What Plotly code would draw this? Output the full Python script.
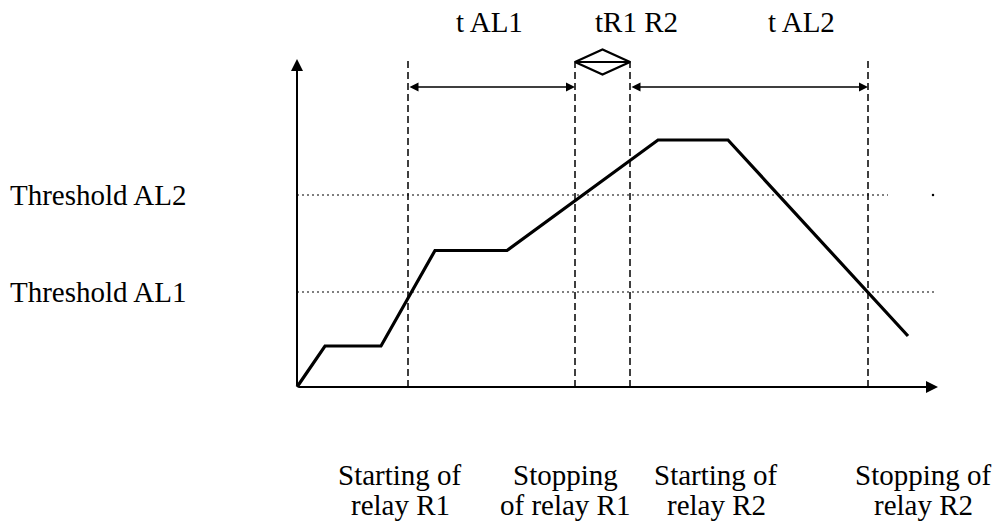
import plotly.graph_objects as go

# Signal curve (time, level)
curve_t = [0, 2.8, 8.4, 13.8, 21.0, 36.1, 43.1, 61.1]
curve_v = [0, 4.1, 4.1, 13.65, 13.65, 24.7, 24.7, 5.1]

# Thresholds
threshold_names = ["Threshold AL2", "Threshold AL1"]
threshold_levels = [19.2, 9.5]
threshold_ends = [59.1, 63.8]

# Relay event times
event_times = [11.1, 27.8, 33.3, 57.1]
event_line1 = ["Starting of", "Stopping", "Starting of", "Stopping of"]
event_line2 = ["relay R1", "of relay R1", "relay R2", "relay R2"]
event_label_x = [10.3, 26.8, 41.9, 62.6]

# Interval labels
interval_names = ["t AL1", "tR1 R2", "t AL2"]
interval_label_x = [19.2, 33.9, 50.4]

axis_top = 32.8
axis_right = 64.1
arrow_level = 30.0
diamond_mid = 32.5
diamond_half = 1.25

FONT = "Liberation Serif, Times New Roman, serif"
FS = 29

fig = go.Figure()

# threshold dotted lines
for lvl, end in zip(threshold_levels, threshold_ends):
    fig.add_trace(go.Scatter(x=[0, end], y=[lvl, lvl], mode="lines",
                             line=dict(color="black", width=1.2, dash="2px,3px"),
                             hoverinfo="skip", showlegend=False))
# small stray dot on AL2
fig.add_trace(go.Scatter(x=[63.6], y=[threshold_levels[0]], mode="markers",
                         marker=dict(color="black", size=2.5), hoverinfo="skip", showlegend=False))

# vertical dashed lines
for t in event_times:
    fig.add_trace(go.Scatter(x=[t, t], y=[0, axis_top], mode="lines",
                             line=dict(color="black", width=1.5, dash="7px,4px"),
                             hoverinfo="skip", showlegend=False))

# curve
fig.add_trace(go.Scatter(x=curve_t, y=curve_v, mode="lines",
                         line=dict(color="black", width=3.2),
                         hoverinfo="skip", showlegend=False))

# diamond between R1 stop and R2 start
dl, dr = event_times[1], event_times[2]
dm = (dl + dr) / 2
fig.add_trace(go.Scatter(x=[dl, dm, dr, dm, dl, dr],
                         y=[diamond_mid, diamond_mid + diamond_half, diamond_mid,
                            diamond_mid - diamond_half, diamond_mid, diamond_mid],
                         mode="lines", line=dict(color="black", width=2.2),
                         hoverinfo="skip", showlegend=False))

anns = []
# axes arrows
anns.append(dict(x=0, y=axis_top, ax=0, ay=0, xref="x", yref="y", axref="x", ayref="y",
                 text="", showarrow=True, arrowhead=2, arrowsize=1.2, arrowwidth=2, arrowcolor="black"))
anns.append(dict(x=axis_right, y=0, ax=0, ay=0, xref="x", yref="y", axref="x", ayref="y",
                 text="", showarrow=True, arrowhead=2, arrowsize=1.2, arrowwidth=2, arrowcolor="black"))
# interval arrows
for a, b in [(event_times[0], event_times[1]), (event_times[2], event_times[3])]:
    anns.append(dict(x=b, y=arrow_level, ax=a, ay=arrow_level, xref="x", yref="y", axref="x", ayref="y",
                     text="", showarrow=True, arrowhead=2, arrowside="end+start",
                     arrowsize=1.2, arrowwidth=1.5, arrowcolor="black"))

# interval labels
for name, x in zip(interval_names, interval_label_x):
    anns.append(dict(x=x, y=36.5, xref="x", yref="y", text=name, showarrow=False,
                     font=dict(family=FONT, size=FS, color="black"), xanchor="center", yanchor="middle"))
# threshold labels
for name, lvl in zip(threshold_names, threshold_levels):
    anns.append(dict(x=-28.9, y=lvl, xref="x", yref="y", text=name, showarrow=False,
                     font=dict(family=FONT, size=FS, color="black"), xanchor="left", yanchor="middle"))
# event labels
for x, l1, l2 in zip(event_label_x, event_line1, event_line2):
    anns.append(dict(x=x, y=-8.8, xref="x", yref="y", text=l1, showarrow=False,
                     font=dict(family=FONT, size=FS, color="black"), xanchor="center", yanchor="middle"))
    anns.append(dict(x=x, y=-11.8, xref="x", yref="y", text=l2, showarrow=False,
                     font=dict(family=FONT, size=FS, color="black"), xanchor="center", yanchor="middle"))

fig.update_layout(
    width=1004, height=525,
    margin=dict(l=0, r=0, t=0, b=0),
    paper_bgcolor="white", plot_bgcolor="white",
    xaxis=dict(range=[-29.7, 70.7], visible=False, fixedrange=True),
    yaxis=dict(range=[-13.8, 38.7], visible=False, fixedrange=True),
    annotations=anns,
    showlegend=False,
)

fig.write_html("out.html", config={"displayModeBar": False},
               post_script="document.body.style.margin='0';document.body.style.overflow='hidden';")
